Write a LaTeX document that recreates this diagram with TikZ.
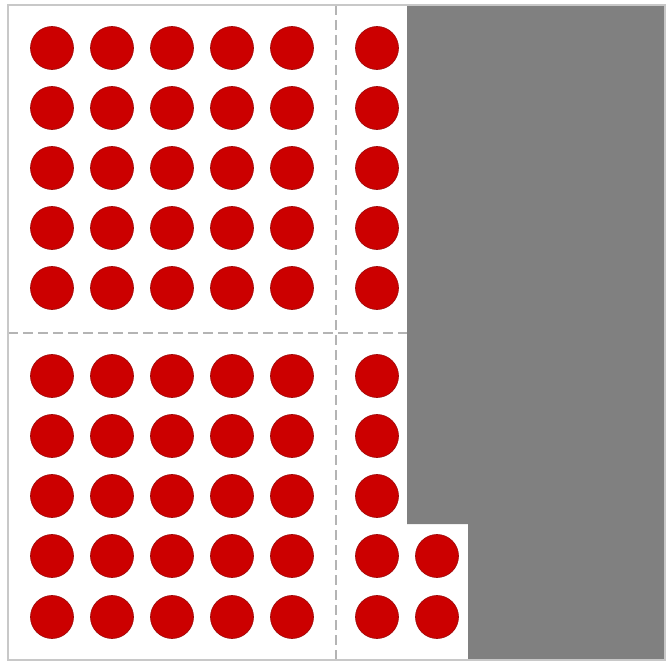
\documentclass[tikz,border=0pt]{standalone}
\usepackage{tikz}

\definecolor{dotred}{RGB}{204,0,0}
\definecolor{dotedge}{RGB}{160,10,10}
\definecolor{framegray}{RGB}{200,200,200}
\definecolor{dashgray}{RGB}{180,180,180}
\definecolor{blockgray}{RGB}{128,128,128}

\tikzset{
  reddot/.style={fill=dotred, draw=dotedge, line width=0.02cm},
  gridline/.style={draw=dashgray, line width=0.045cm, dash pattern=on 0.3cm off 0.15cm},
}

\begin{document}
\begin{tikzpicture}[x=0.03cm, y=0.03cm]
\useasboundingbox (0,0) rectangle (667,663);

% ================================================================
%  Zona ocupada (gris) con el escalón abajo a la izquierda
% ================================================================
\fill[blockgray] (407,658) -- (665,658) -- (665,3) -- (468,3)
                 -- (468,139) -- (407,139) -- cycle;

% Divisiones punteadas
\draw[gridline] (336,658) -- (336,3);
\draw[gridline] (8,330) -- (407,330);

% Marco exterior
\draw[framegray, line width=0.045cm] (8,3) rectangle (665,658);

% ================================================================
%  Puntos rojos: 6 columnas arriba, 7 en las dos últimas filas
% ================================================================
\foreach \xval in {52, 112, 172, 232, 292, 377}{
  \foreach \yval in {615, 555, 495, 435, 375, 287, 227, 167}{
    \draw[reddot] (\xval, \yval) circle (21.5);
  }
}
\foreach \xval in {52, 112, 172, 232, 292, 377, 437}{
  \foreach \yval in {107, 46}{
    \draw[reddot] (\xval, \yval) circle (21.5);
  }
}

\end{tikzpicture}
\end{document}
